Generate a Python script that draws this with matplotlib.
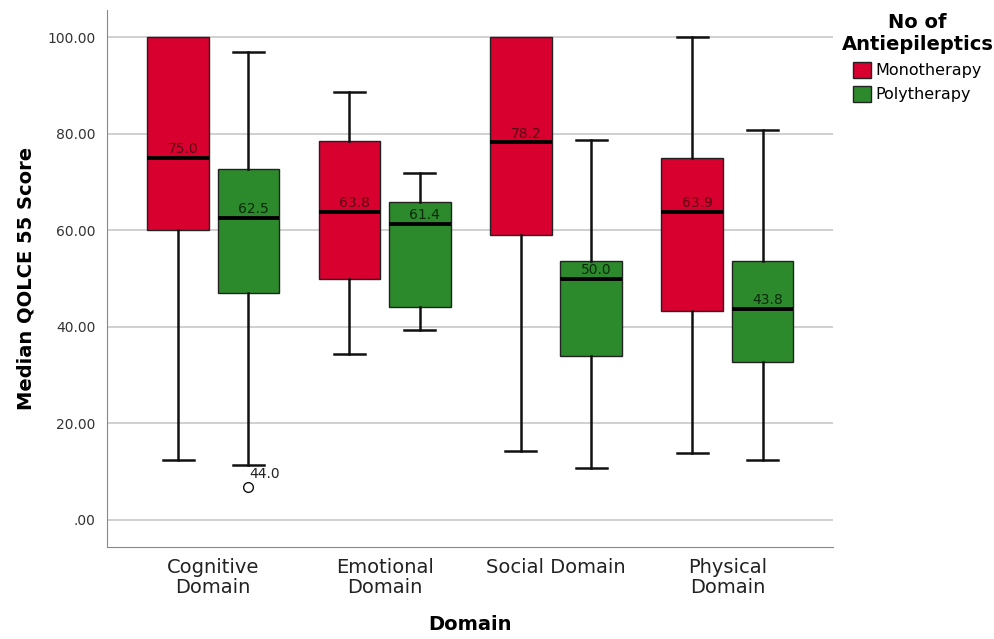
import numpy as np
import matplotlib
matplotlib.use("Agg")
import matplotlib.pyplot as plt
from matplotlib.patches import Patch

# --------------------------------------------------------------------------- #
#  Values
# --------------------------------------------------------------------------- #
domains = ["Cognitive\nDomain", "Emotional\nDomain", "Social Domain", "Physical\nDomain"]

mono_lo  = [12.5, 34.4, 14.3, 13.9]
mono_q1  = [60.0, 50.0, 59.0, 43.3]
mono_med = [75.0, 63.8, 78.2, 63.9]
mono_q3  = [100.0, 78.5, 100.0, 75.0]
mono_hi  = [100.0, 88.7, 100.0, 100.0]

poly_lo  = [11.4, 39.4, 10.7, 12.5]
poly_q1  = [47.1, 44.1, 33.9, 32.8]
poly_med = [62.5, 61.4, 50.0, 43.8]
poly_q3  = [72.8, 65.9, 53.7, 53.6]
poly_hi  = [96.9, 71.9, 78.7, 80.7]

poly_outliers = [[6.9], [], [], []]
poly_outlier_ids = [["44.0"], [], [], []]

RED = "#D7002F"
GREEN = "#2C8A2C"


def make_stats(lo, q1, med, q3, hi, fl=None):
    out = []
    for i in range(len(lo)):
        out.append(dict(whislo=lo[i], q1=q1[i], med=med[i], q3=q3[i],
                        whishi=hi[i], fliers=(fl[i] if fl else [])))
    return out


fig = plt.figure(figsize=(9.95, 6.39), dpi=100)
ax = fig.add_axes([0.1075, 0.144, 0.7295, 0.840])

x = np.arange(len(domains))
off, w = 0.205, 0.36

for stats, pos, col in [
        (make_stats(mono_lo, mono_q1, mono_med, mono_q3, mono_hi), x - off, RED),
        (make_stats(poly_lo, poly_q1, poly_med, poly_q3, poly_hi, poly_outliers), x + off, GREEN)]:
    art = ax.bxp(stats, positions=pos, widths=w, patch_artist=True, manage_ticks=False,
                 boxprops=dict(facecolor=col, edgecolor="#222222", linewidth=1.0),
                 medianprops=dict(color="black", linewidth=2.8),
                 whiskerprops=dict(color="#111111", linewidth=1.8),
                 capprops=dict(color="#111111", linewidth=1.8),
                 capwidths=w / 2,
                 flierprops=dict(marker="o", markerfacecolor="white",
                                 markeredgecolor="#111111", markersize=7,
                                 markeredgewidth=1.0),
                 zorder=3)
    # no cap drawn where the whisker ends on the box edge (SPSS style)
    for k, st in enumerate(stats):
        if st["whishi"] <= st["q3"]:
            art["caps"][2 * k + 1].set_visible(False)

# median labels
for i in range(len(domains)):
    ax.text(x[i] - off + 0.03, mono_med[i] + 0.4, f"{mono_med[i]:.1f}", ha="center",
            va="bottom", fontsize=10, color="#5a0010", zorder=4)
    ax.text(x[i] + off + 0.03, poly_med[i] + 0.4, f"{poly_med[i]:.1f}", ha="center",
            va="bottom", fontsize=10, color="#0a2a0a", zorder=4)
    for v, lab in zip(poly_outliers[i], poly_outlier_ids[i]):
        ax.text(x[i] + off + 0.005, v + 1.2, lab, ha="left", va="bottom",
                fontsize=10, color="#222222", zorder=4)

ax.set_xlim(-0.62, 3.615)
ax.set_ylim(-5.6, 105.6)
ax.set_yticks([0, 20, 40, 60, 80, 100])
ax.set_yticklabels([".00", "20.00", "40.00", "60.00", "80.00", "100.00"],
                   fontsize=10, color="#333333")
ax.set_xticks(x)
ax.set_xticklabels(domains, fontsize=14, color="#222222", linespacing=1.05)
ax.tick_params(axis="both", length=0, pad=8)
ax.tick_params(axis="x", pad=8)
ax.yaxis.grid(True, color="#c8c8c8", linewidth=1.2, zorder=0)
ax.set_axisbelow(True)
for s in ["top", "right"]:
    ax.spines[s].set_visible(False)
for s in ["left", "bottom"]:
    ax.spines[s].set_color("#888888")

ax.set_ylabel("Median QOLCE 55 Score", fontsize=14, fontweight="bold", labelpad=9)
ax.set_xlabel("Domain", fontsize=14, fontweight="bold", labelpad=13)

handles = [Patch(facecolor=RED, edgecolor="#222222", label="Monotherapy"),
           Patch(facecolor=GREEN, edgecolor="#222222", label="Polytherapy")]
leg = fig.legend(handles=handles, title="No of\nAntiepileptics", loc="upper center",
                 bbox_to_anchor=(0.922, 0.99), frameon=False, fontsize=11.5,
                 handlelength=1.1, handleheight=1.15, handletextpad=0.3,
                 labelspacing=0.5, borderaxespad=0, alignment="center",
                 title_fontproperties=dict(weight="bold", size=14))
leg.get_title().set_linespacing(1.2)
leg.get_title().set_multialignment("center")

fig.savefig("out.png", dpi=100)
